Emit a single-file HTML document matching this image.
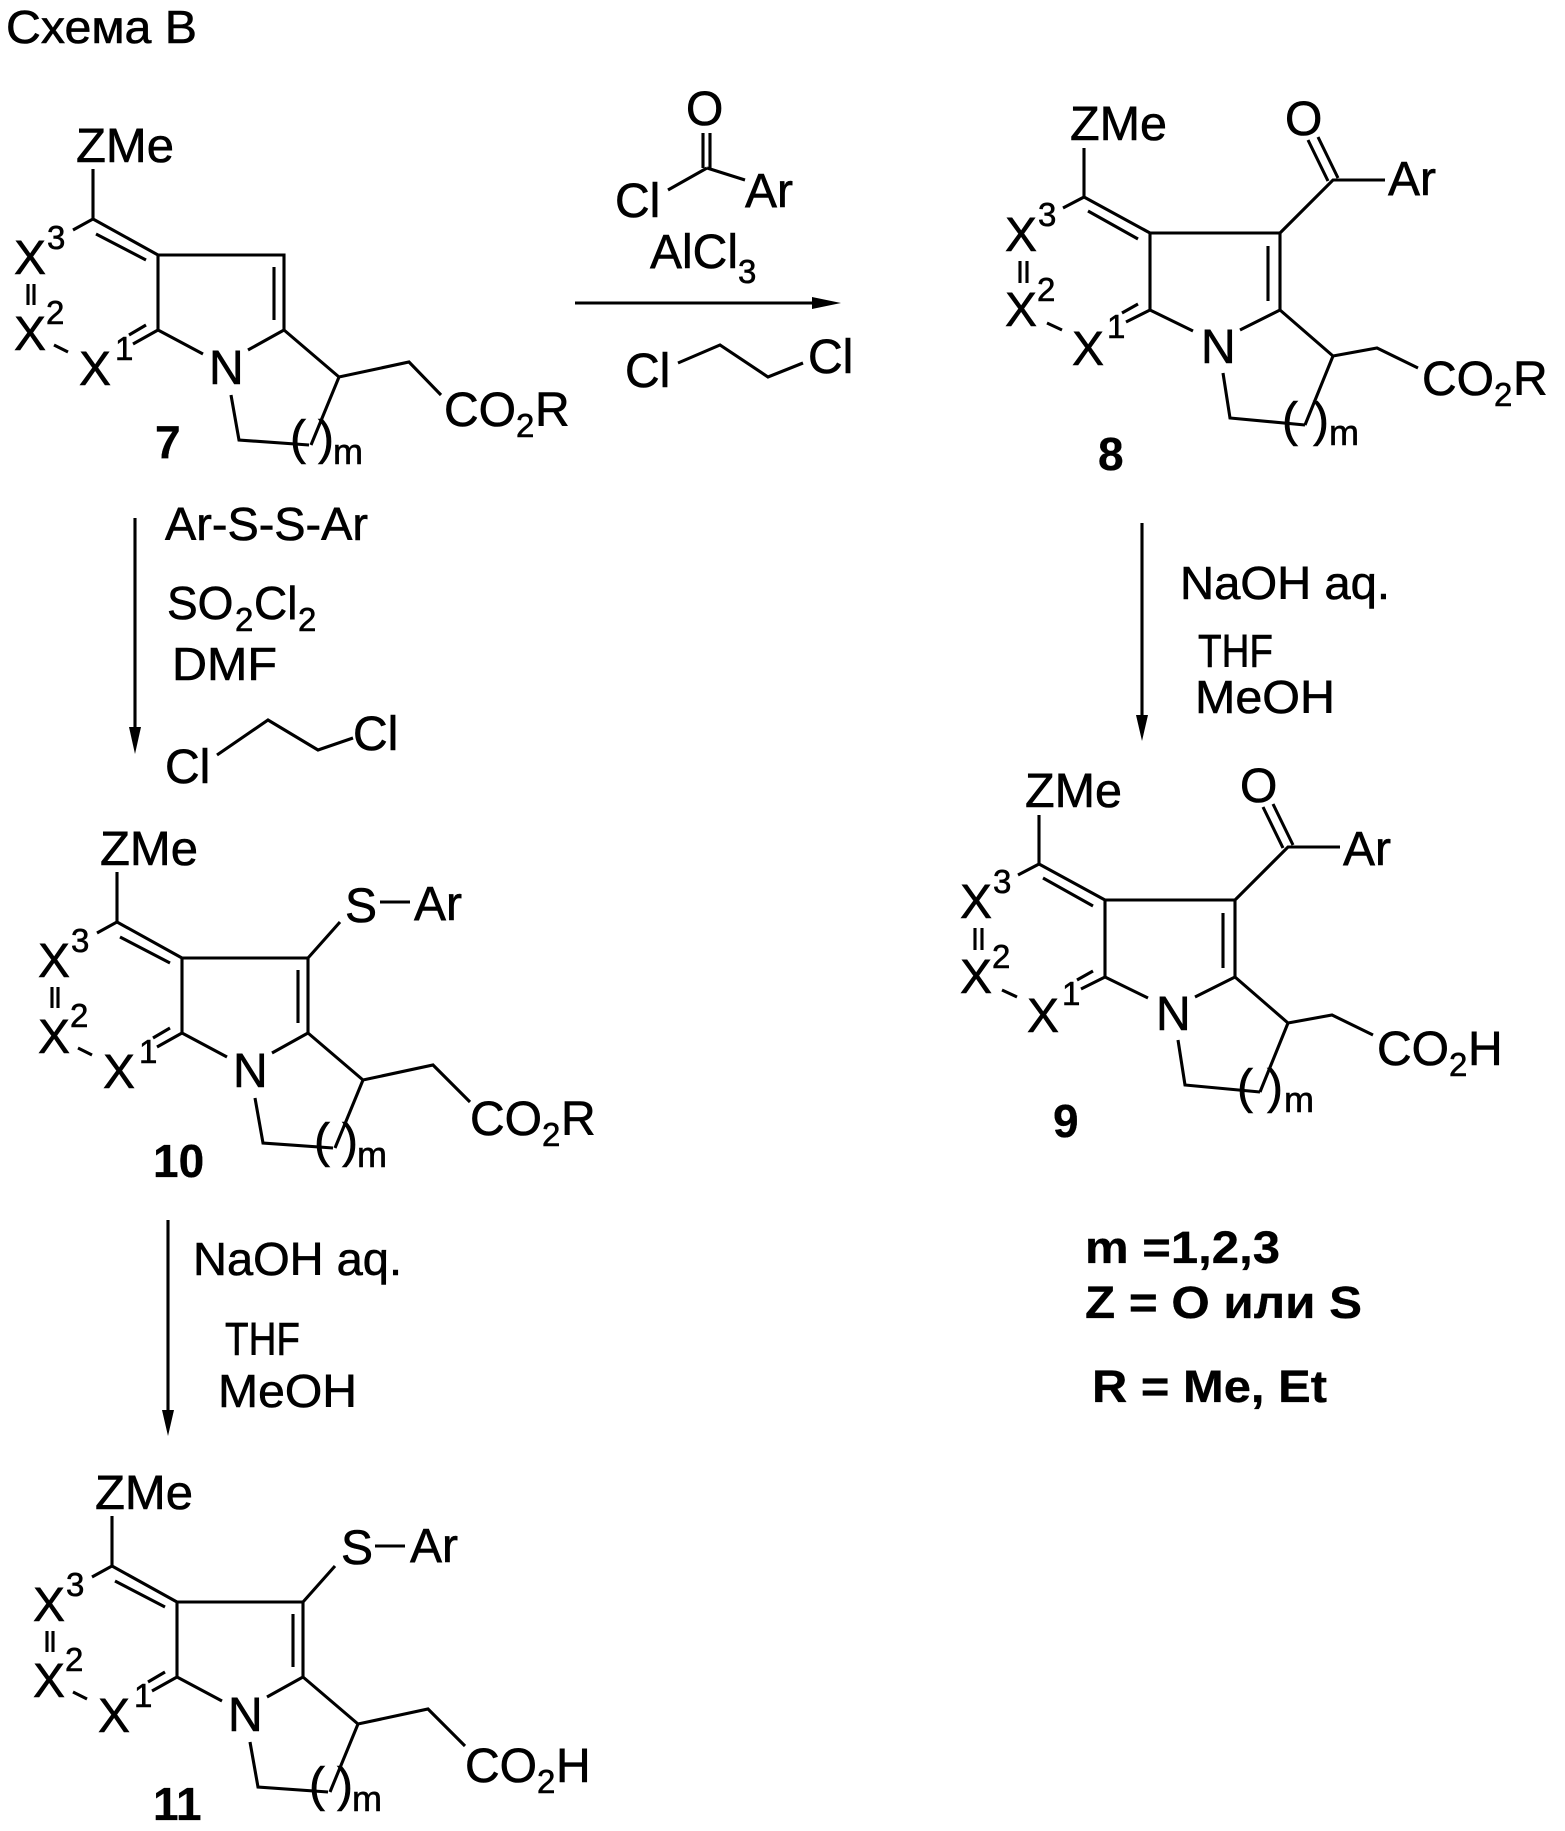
<!DOCTYPE html>
<html>
<head>
<meta charset="utf-8">
<style>
html,body{margin:0;padding:0;background:#fff;}
svg{display:block;}
text{font-family:"Liberation Sans",Arial,sans-serif;font-size:48px;fill:#000;stroke:#000;stroke-width:0.6;}
.s{font-size:33px;}
.m{font-size:36px;}
.r{font-size:46px;}
.b{font-size:46px;font-weight:bold;stroke-width:0.3;}
.lg{font-size:45px;font-weight:bold;stroke-width:0.3;}
path,line{stroke:#000;stroke-width:3.1;fill:none;stroke-linecap:butt;}
</style>
</head>
<body>
<svg width="1565" height="1831" viewBox="0 0 1565 1831" xmlns="http://www.w3.org/2000/svg">

<!-- Title -->
<text class="r" x="6" y="43" textLength="191" lengthAdjust="spacingAndGlyphs">Схема В</text>

<!-- Compound 7 (template A) -->
<g transform="translate(158,255)">
 <path d="M-65,-86 L-65,-36 L-85,-25 M-65,-36 L0,0 M-62,-21 L-12,5 M0,0 L126,0 L126,75 M0,0 L0,75 M116,12 L116,65 M126,75 L90,95 M0,75 L45,99 M0,75 L-25,89 M-12,70 L-29,80 M-104,90 L-90,97 M-130,29 L-130,50 M-124,29 L-124,50 M126,75 L181,122 L251,107 L283,140 M181,122 L153,190 M73,140 L81,185 L151,190"/>
 <text x="-82" y="-93" textLength="98" lengthAdjust="spacingAndGlyphs">ZMe</text>
 <text x="-144" y="19">X</text><text class="s" x="-111" y="-6">3</text>
 <text x="-144" y="95">X</text><text class="s" x="-112" y="69">2</text>
 <text x="-79" y="130">X</text><text class="s" x="-43" y="105">1</text>
 <text x="51" y="129">N</text>
 <text x="132" y="199">(</text><text x="160" y="199">)</text><text class="m" x="175" y="209">m</text>
 <text x="286" y="171">CO</text><text class="s" x="358" y="182">2</text><text x="377" y="171">R</text>
</g>
<text class="b" x="155" y="458">7</text>

<!-- Arrow 7 -> 8 with reagents -->
<text x="686" y="125">O</text>
<path d="M703,133 L703,168 M710,133 L710,168 M707,168 L668,190 M707,168 L745,180"/>
<text x="615" y="217">Cl</text>
<text x="745" y="207">Ar</text>
<text x="650" y="268">AlCl</text><text class="s" x="738" y="283">3</text>
<line x1="575" y1="303" x2="820" y2="303"/>
<polygon points="841,303 812,297 812,309" fill="#000"/>
<text x="625" y="387">Cl</text>
<path d="M678,363 L720,345 L768,377 L803,363"/>
<text x="808" y="373">Cl</text>

<!-- Compound 8 (template B) -->
<g transform="translate(1150,233)">
 <path d="M-66,-85 L-66,-36 L-87,-25 M-66,-36 L0,0 M-62,-22 L-12,6 M0,0 L130,0 L130,77 M0,0 L0,77 M118,13 L118,68 M130,0 L183,-53 L235,-53 M178,-52 L158,-93 M188,-55 L168,-96 M130,77 L90,97 M0,77 L43,98 M0,77 L-24,89 M-12,71 L-28,80 M-103,90 L-88,97 M-130,28 L-130,50 M-123,28 L-123,50 M130,77 L183,123 L227,115 L268,135 M183,123 L155,192 M73,140 L80,185 L155,192"/>
 <text x="-80" y="-93" textLength="97" lengthAdjust="spacingAndGlyphs">ZMe</text>
 <text x="135" y="-98">O</text>
 <text x="238" y="-38">Ar</text>
 <text x="-145" y="18">X</text><text class="s" x="-112" y="-7">3</text>
 <text x="-145" y="93">X</text><text class="s" x="-113" y="68">2</text>
 <text x="-78" y="132">X</text><text class="s" x="-43" y="105">1</text>
 <text x="51" y="130">N</text>
 <text x="132" y="203">(</text><text x="163" y="203">)</text><text class="m" x="179" y="212">m</text>
 <text x="272" y="162">CO</text><text class="s" x="344" y="173">2</text><text x="363" y="162">R</text>
</g>
<text class="b" x="1098" y="470">8</text>

<!-- Arrow 7 -> 10 with reagents -->
<line x1="135" y1="518" x2="135" y2="732"/>
<polygon points="135,754 129,727 141,727" fill="#000"/>
<text class="r" x="165" y="540" textLength="203" lengthAdjust="spacingAndGlyphs">Ar-S-S-Ar</text>
<text class="r" x="167" y="619">SO</text><text class="s" x="235" y="631">2</text><text class="r" x="254" y="619">Cl</text><text class="s" x="298" y="631">2</text>
<text class="r" x="172" y="680" textLength="105" lengthAdjust="spacingAndGlyphs">DMF</text>
<text x="165" y="783">Cl</text>
<path d="M217,755 L268,720 L318,750 L353,738"/>
<text x="353" y="750">Cl</text>

<!-- Arrow 8 -> 9 with reagents -->
<line x1="1142" y1="523" x2="1142" y2="720"/>
<polygon points="1142,741 1136,715 1148,715" fill="#000"/>
<text class="r" x="1180" y="599" textLength="210" lengthAdjust="spacingAndGlyphs">NaOH aq.</text>
<text class="r" x="1198" y="667" textLength="75" lengthAdjust="spacingAndGlyphs">THF</text>
<text class="r" x="1195" y="713" textLength="140" lengthAdjust="spacingAndGlyphs">MeOH</text>

<!-- Compound 9 (template B) -->
<g transform="translate(1105,900)">
 <path d="M-66,-85 L-66,-36 L-87,-25 M-66,-36 L0,0 M-62,-22 L-12,6 M0,0 L130,0 L130,77 M0,0 L0,77 M118,13 L118,68 M130,0 L183,-53 L235,-53 M178,-52 L158,-93 M188,-55 L168,-96 M130,77 L90,97 M0,77 L43,98 M0,77 L-24,89 M-12,71 L-28,80 M-103,90 L-88,97 M-130,28 L-130,50 M-123,28 L-123,50 M130,77 L183,123 L227,115 L268,135 M183,123 L155,192 M73,140 L80,185 L155,192"/>
 <text x="-80" y="-93" textLength="97" lengthAdjust="spacingAndGlyphs">ZMe</text>
 <text x="135" y="-98">O</text>
 <text x="238" y="-35">Ar</text>
 <text x="-145" y="18">X</text><text class="s" x="-112" y="-7">3</text>
 <text x="-145" y="93">X</text><text class="s" x="-113" y="68">2</text>
 <text x="-78" y="132">X</text><text class="s" x="-43" y="105">1</text>
 <text x="51" y="130">N</text>
 <text x="132" y="203">(</text><text x="162" y="203">)</text><text class="m" x="179" y="212">m</text>
 <text x="272" y="165">CO</text><text class="s" x="344" y="176">2</text><text x="363" y="165">H</text>
</g>
<text class="b" x="1053" y="1137">9</text>

<!-- Legend -->
<text class="lg" x="1085" y="1263" textLength="195" lengthAdjust="spacingAndGlyphs">m =1,2,3</text>
<text class="lg" x="1085" y="1318" textLength="277" lengthAdjust="spacingAndGlyphs">Z = O или S</text>
<text class="lg" x="1092" y="1402" textLength="235" lengthAdjust="spacingAndGlyphs">R = Me, Et</text>

<!-- Compound 10 (template A + SAr) -->
<g transform="translate(182,958)">
 <path d="M-65,-86 L-65,-36 L-85,-25 M-65,-36 L0,0 M-62,-21 L-12,5 M0,0 L126,0 L126,75 M0,0 L0,75 M116,12 L116,65 M126,75 L90,95 M0,75 L45,99 M0,75 L-25,89 M-12,70 L-29,80 M-104,90 L-90,97 M-130,29 L-130,50 M-124,29 L-124,50 M126,75 L181,122 L251,107 L288,144 M181,122 L153,190 M73,140 L81,185 L151,190 M126,0 L158,-36 M198,-56 L228,-56"/>
 <text x="-82" y="-93" textLength="98" lengthAdjust="spacingAndGlyphs">ZMe</text>
 <text x="163" y="-36">S</text><text x="232" y="-38">Ar</text>
 <text x="-144" y="19">X</text><text class="s" x="-111" y="-6">3</text>
 <text x="-144" y="95">X</text><text class="s" x="-112" y="69">2</text>
 <text x="-79" y="130">X</text><text class="s" x="-43" y="105">1</text>
 <text x="51" y="129">N</text>
 <text x="132" y="199">(</text><text x="160" y="199">)</text><text class="m" x="175" y="209">m</text>
 <text x="288" y="177">CO</text><text class="s" x="360" y="188">2</text><text x="379" y="177">R</text>
</g>
<text class="b" x="153" y="1177">10</text>

<!-- Arrow 10 -> 11 with reagents -->
<line x1="168" y1="1220" x2="168" y2="1415"/>
<polygon points="168,1436 162,1410 174,1410" fill="#000"/>
<text class="r" x="193" y="1275" textLength="209" lengthAdjust="spacingAndGlyphs">NaOH aq.</text>
<text class="r" x="225" y="1355" textLength="75" lengthAdjust="spacingAndGlyphs">THF</text>
<text class="r" x="218" y="1407" textLength="139" lengthAdjust="spacingAndGlyphs">MeOH</text>

<!-- Compound 11 (template A + SAr, acid) -->
<g transform="translate(177,1602)">
 <path d="M-65,-86 L-65,-36 L-85,-25 M-65,-36 L0,0 M-62,-21 L-12,5 M0,0 L126,0 L126,75 M0,0 L0,75 M116,12 L116,65 M126,75 L90,95 M0,75 L45,99 M0,75 L-25,89 M-12,70 L-29,80 M-104,90 L-90,97 M-130,29 L-130,50 M-124,29 L-124,50 M126,75 L181,122 L251,107 L288,144 M181,122 L153,190 M73,140 L81,185 L151,190 M126,0 L158,-36 M198,-56 L228,-56"/>
 <text x="-82" y="-93" textLength="98" lengthAdjust="spacingAndGlyphs">ZMe</text>
 <text x="164" y="-38">S</text><text x="233" y="-40">Ar</text>
 <text x="-144" y="19">X</text><text class="s" x="-111" y="-6">3</text>
 <text x="-144" y="95">X</text><text class="s" x="-112" y="69">2</text>
 <text x="-79" y="130">X</text><text class="s" x="-43" y="105">1</text>
 <text x="51" y="129">N</text>
 <text x="132" y="199">(</text><text x="160" y="199">)</text><text class="m" x="175" y="209">m</text>
 <text x="288" y="180">CO</text><text class="s" x="360" y="191">2</text><text x="379" y="180">H</text>
</g>
<text class="b" x="153" y="1820">11</text>

</svg>
</body>
</html>
